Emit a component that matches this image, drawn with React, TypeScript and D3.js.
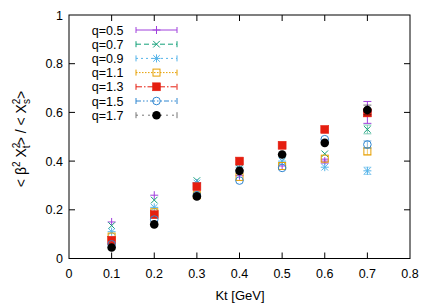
import React from "react";
import * as d3 from "d3";

const kt = [0.1, 0.2, 0.3, 0.4, 0.5, 0.6, 0.7];
const qLabels = ["q=0.5", "q=0.7", "q=0.9", "q=1.1", "q=1.3", "q=1.5", "q=1.7"];
const q05 = [0.15, 0.26, 0.31, 0.34, 0.38, 0.4, 0.6];
const q07 = [0.135, 0.24, 0.32, 0.37, 0.4, 0.43, 0.53];
const q09 = [0.11, 0.21, 0.31, 0.375, 0.4, 0.375, 0.36];
const q11 = [0.09, 0.19, 0.26, 0.335, 0.38, 0.41, 0.44];
const q13 = [0.075, 0.18, 0.295, 0.4, 0.465, 0.53, 0.598];
const q15 = [0.058, 0.16, 0.26, 0.32, 0.372, 0.49, 0.468];
const q17 = [0.045, 0.14, 0.255, 0.36, 0.427, 0.475, 0.61];
const e05 = [0.003, 0.003, 0.003, 0.003, 0.003, 0.008, 0.045];
const e07 = [0.002, 0.002, 0.002, 0.002, 0.003, 0.004, 0.018];
const e09 = [0.002, 0.002, 0.002, 0.002, 0.003, 0.004, 0.015];
const e11 = [0.002, 0.002, 0.002, 0.002, 0.003, 0.004, 0.015];
const e13 = [0.002, 0.002, 0.002, 0.002, 0.003, 0.004, 0.015];
const e15 = [0.002, 0.002, 0.002, 0.002, 0.003, 0.004, 0.015];
const e17 = [0.002, 0.002, 0.002, 0.002, 0.003, 0.004, 0.02];
const xTicks = [0, 0.1, 0.2, 0.3, 0.4, 0.5, 0.6, 0.7, 0.8];
const yTicks = [0, 0.2, 0.4, 0.6, 0.8, 1];

const seriesValues = [q05, q07, q09, q11, q13, q15, q17];
const seriesErrors = [e05, e07, e09, e11, e13, e15, e17];
const colors = ["#a040dc", "#13a079", "#56b4e9", "#e69f00", "#e51e10", "#2f86d0", "#000000"];
const lineColors = ["#a040dc", "#13a079", "#56b4e9", "#e69f00", "#e51e10", "#2f86d0", "#777777"];
const markers = ["plus", "cross", "star", "osq", "fsq", "ocir", "fcir"];
const dashes = ["none", "5,3", "2,3", "1.5,1.5", "6,2,1.5,2", "5,2,1.5,2,1.5,2", "2,4"];

const W = 436, H = 305;
const L = 69, R = 410, T = 15, B = 258.5;
const FONT = "'Liberation Sans', Arial, Helvetica, sans-serif";

function Marker({ kind, x, y, c }: { kind: string; x: number; y: number; c: string }) {
  const s = 4;
  const d = 3.3;
  switch (kind) {
    case "plus":
      return (
        <g stroke={c} strokeWidth={1}>
          <line x1={x - s} x2={x + s} y1={y} y2={y} />
          <line x1={x} x2={x} y1={y - s} y2={y + s} />
        </g>
      );
    case "cross":
      return (
        <g stroke={c} strokeWidth={1}>
          <line x1={x - d} x2={x + d} y1={y - d} y2={y + d} />
          <line x1={x - d} x2={x + d} y1={y + d} y2={y - d} />
        </g>
      );
    case "star":
      return (
        <g stroke={c} strokeWidth={1}>
          <line x1={x - s} x2={x + s} y1={y} y2={y} />
          <line x1={x} x2={x} y1={y - s} y2={y + s} />
          <line x1={x - d} x2={x + d} y1={y - d} y2={y + d} />
          <line x1={x - d} x2={x + d} y1={y + d} y2={y - d} />
        </g>
      );
    case "osq":
      return <rect x={x - 3.5} y={y - 3.5} width={7} height={7} fill="none" stroke={c} strokeWidth={1} />;
    case "fsq":
      return <rect x={x - 4} y={y - 4} width={8} height={8} fill={c} stroke={c} strokeWidth={0.5} />;
    case "ocir":
      return <circle cx={x} cy={y} r={3.8} fill="none" stroke={c} strokeWidth={1} />;
    default:
      return <circle cx={x} cy={y} r={4.3} fill={c} />;
  }
}

export default function App() {
  const x = d3.scaleLinear().domain([0, 0.8]).range([L, R]);
  const y = d3.scaleLinear().domain([0, 1]).range([B, T]);
  const tl = 6;

  return (
    <svg width={W} height={H} style={{ position: "absolute", left: 0, top: 0, background: "#fff" }} fontFamily={FONT}>
      <g stroke="#000" strokeWidth={1}>
        {xTicks.slice(1, -1).map((t) => (
          <g key={"xt" + t}>
            <line x1={x(t)} x2={x(t)} y1={B} y2={B - tl} />
            <line x1={x(t)} x2={x(t)} y1={T} y2={T + tl} />
          </g>
        ))}
        {yTicks.slice(1, -1).map((t) => (
          <g key={"yt" + t}>
            <line x1={L} x2={L + tl} y1={y(t)} y2={y(t)} />
            <line x1={R} x2={R - tl} y1={y(t)} y2={y(t)} />
          </g>
        ))}
      </g>
      <rect x={L} y={T} width={R - L} height={B - T} fill="none" stroke="#000" strokeWidth={1} />
      <g fontSize={12.5} fill="#000">
        {xTicks.map((t) => (
          <text key={"xl" + t} x={x(t)} y={278} textAnchor="middle">
            {d3.format("")(t)}
          </text>
        ))}
        {yTicks.map((t) => (
          <text key={"yl" + t} x={63} y={y(t) + 4.5} textAnchor="end">
            {d3.format("")(t)}
          </text>
        ))}
      </g>
      <text x={240} y={300} fontSize={13} textAnchor="middle">
        Kt [GeV]
      </text>
      <text transform="translate(26,139) rotate(-90)" fontSize={14} textAnchor="middle">
        <tspan>{"< β"}</tspan>
        <tspan fontSize={10} dy={-6}>2</tspan>
        <tspan dy={6}>{" X"}</tspan>
        <tspan fontSize={10} dy={-6}>2</tspan>
        <tspan fontSize={10} dx={-5.5} dy={10}>t</tspan>
        <tspan dy={-4}>{"> / < X"}</tspan>
        <tspan fontSize={10} dy={-6}>2</tspan>
        <tspan fontSize={10} dx={-5.5} dy={10}>s</tspan>
        <tspan dy={-4}>{">"}</tspan>
      </text>
      {seriesValues.map((vals, si) => (
        <g key={"s" + si}>
          {vals.map((v, i) => {
            const e = seriesErrors[si][i];
            const cx = x(kt[i]);
            const y1 = y(v + e), y2 = y(v - e);
            return (
              <g key={i}>
                {y2 - y1 > 3 && (
                  <g stroke={colors[si]} strokeWidth={1} opacity={si === 0 ? 1 : 0.55}>
                    <line x1={cx} x2={cx} y1={y1} y2={y2} />
                    <line x1={cx - 4} x2={cx + 4} y1={y1} y2={y1} />
                    <line x1={cx - 4} x2={cx + 4} y1={y2} y2={y2} />
                  </g>
                )}
                <Marker kind={markers[si]} x={cx} y={y(v)} c={colors[si]} />
              </g>
            );
          })}
        </g>
      ))}
      {qLabels.map((lab, i) => {
        const ly = 30 + i * 14.2;
        const x1 = 136, x2 = 177, xm = 156.5;
        return (
          <g key={"lg" + i}>
            <text x={123.5} y={ly + 4.5} fontSize={12.5} textAnchor="end">
              {lab}
            </text>
            <g stroke={lineColors[i]} strokeWidth={1}>
              <line x1={x1} x2={x2} y1={ly} y2={ly} strokeDasharray={dashes[i]} />
              <line x1={x1} x2={x1} y1={ly - 3} y2={ly + 3} />
              <line x1={x2} x2={x2} y1={ly - 3} y2={ly + 3} />
            </g>
            <Marker kind={markers[i]} x={xm} y={ly} c={colors[i]} />
          </g>
        );
      })}
    </svg>
  );
}
